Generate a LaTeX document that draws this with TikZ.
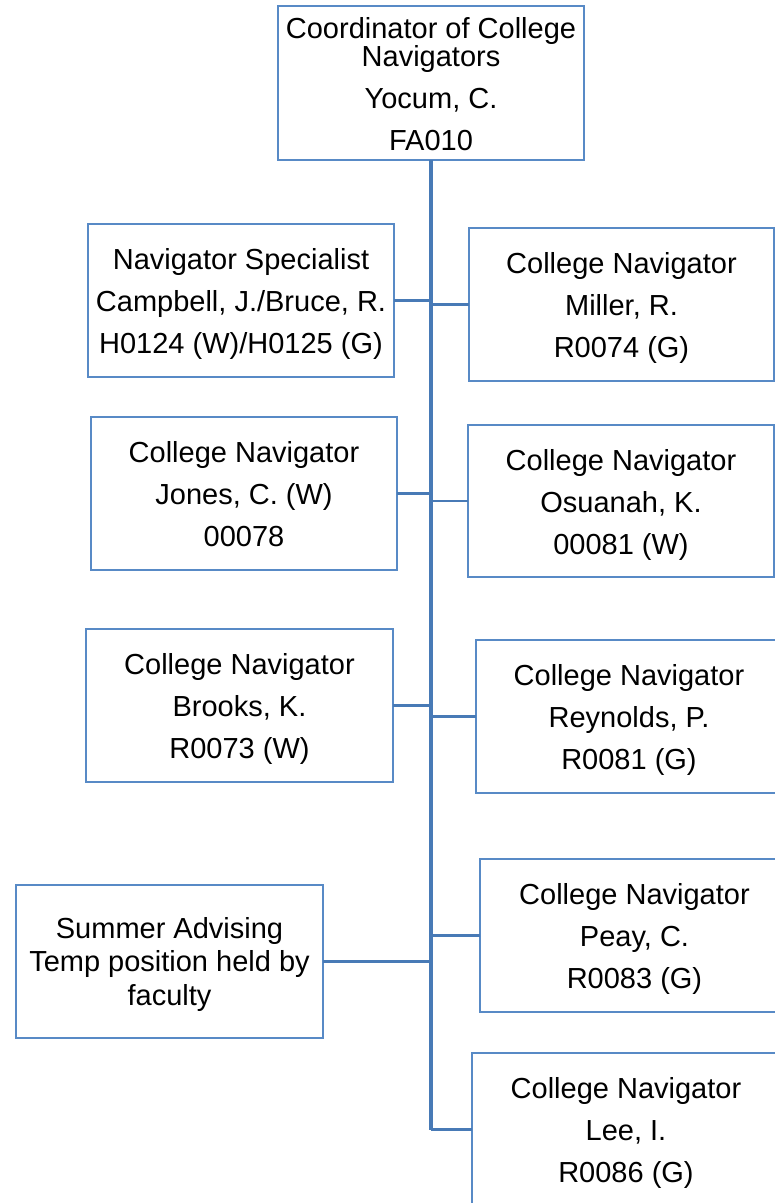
\documentclass[tikz,border=0pt]{standalone}
\usepackage{fontspec}
\setmainfont{Liberation Sans}
\definecolor{boxc}{RGB}{88,138,198}
\definecolor{linec}{RGB}{72,122,182}
\newcommand{\ls}{\rule[-10pt]{0pt}{42pt}}
\newcommand{\lt}{\rule[-4.5pt]{0pt}{31pt}}
\begin{document}
\begin{tikzpicture}[x=1pt,y=-1pt,
  box/.style={draw=boxc, line width=2.6pt, rectangle, inner sep=0pt, outer sep=0pt,
    anchor=north west, align=center, minimum height=153pt,
    font=\fontsize{29}{42}\selectfont},
  conn/.style={draw=linec, line width=2.8pt},
  trunkline/.style={draw=linec, line width=3.3pt}]
\useasboundingbox (0,0) rectangle (775,1203);
\node[box, minimum width=306pt] (top) at (278,6)
  {\ls Coordinator of College\\[-14pt]\ls Navigators\\\ls Yocum, C.\\\ls FA010};
\node[box, minimum width=306pt] (camp) at (88,224)
  {\ls Navigator Specialist\\\ls Campbell, J./Bruce, R.\\\ls H0124 (W)/H0125 (G)};
\node[box, minimum width=305pt] (miller) at (469,228)
  {\ls College Navigator\\\ls Miller, R.\\\ls R0074 (G)};
\node[box, minimum width=306pt] (jones) at (91,417)
  {\ls College Navigator\\\ls Jones, C. (W)\\\ls 00078};
\node[box, minimum width=306pt, minimum height=152pt] (osu) at (468,425)
  {\ls College Navigator\\\ls Osuanah, K.\\\ls 00081 (W)};
\node[box, minimum width=307pt] (brooks) at (86,629)
  {\ls College Navigator\\\ls Brooks, K.\\\ls R0073 (W)};
\node[box, minimum width=306pt] (reyn) at (476,640)
  {\ls College Navigator\\\ls Reynolds, P.\\\ls R0081 (G)};
\node[box, minimum width=307pt, font=\fontsize{29}{31}\selectfont] (summer) at (16,885)
  {\lt Summer Advising\\\lt Temp position held by\\\lt faculty};
\node[box, minimum width=309pt] (peay) at (480,859)
  {\ls College Navigator\\\ls Peay, C.\\\ls R0083 (G)};
\node[box, minimum width=308pt] (lee) at (472,1053)
  {\ls College Navigator\\\ls Lee, I.\\\ls R0086 (G)};
\coordinate (trunkend) at (top.south |- lee.west);
\draw[trunkline] (top.south) -- (trunkend);
\draw[conn] (trunkend) -- (lee.west);
\draw[conn] (camp.east) -- (camp.east -| top.south);
\draw[conn] (miller.west) -- (miller.west -| top.south);
\draw[conn] (jones.east) -- (jones.east -| top.south);
\draw[conn] (osu.west) -- (osu.west -| top.south);
\draw[conn] (brooks.east) -- (brooks.east -| top.south);
\draw[conn] (reyn.west) -- (reyn.west -| top.south);
\draw[conn] (summer.east) -- (summer.east -| top.south);
\draw[conn] (peay.west) -- (peay.west -| top.south);
\end{tikzpicture}
\end{document}
